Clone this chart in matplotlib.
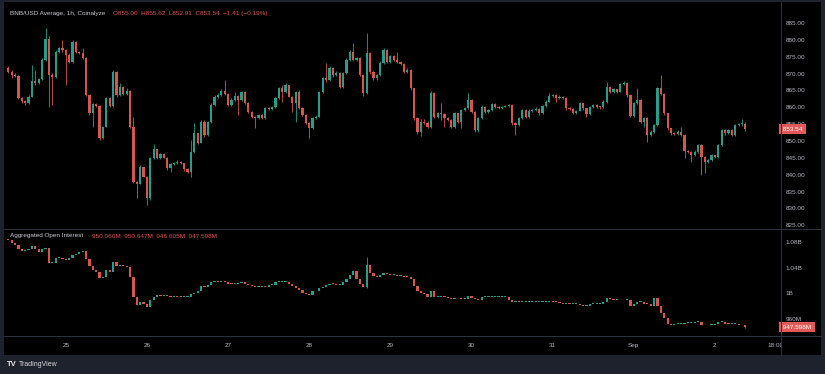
import matplotlib
matplotlib.use("Agg")
import matplotlib.pyplot as plt
import numpy as np
from matplotlib import transforms
from matplotlib.patches import Rectangle
from matplotlib.lines import Line2D

plt.rcParams['font.family'] = ['Liberation Sans', 'DejaVu Sans']

# ---------------- data ----------------
first_hour = -17          # first candle: Aug 24 07:00 (hours relative to Aug 25 00:00)
first_open = 871.6

closes = [
    870.6, 869.6, 869.3, 862.7, 861.9, 861.2, 863.2, 867.9, 867.1, 868.3,
    874.0, 880.3, 869.6, 869.1, 876.5, 877.5, 877.0, 875.5, 873.5, 879.5,
    876.5, 876.2, 874.5, 863.6, 858.2, 861.0, 860.4, 850.8, 854.3, 862.7,
    860.4, 870.6, 863.6, 866.1, 863.9, 864.9, 854.3, 837.9, 837.4, 842.4,
    839.4, 833.0, 844.9, 847.5, 844.9, 846.1, 845.1, 841.9, 843.2, 843.4,
    843.9, 843.4, 841.6, 840.9, 846.8, 852.3, 849.5, 855.7, 851.8, 855.7,
    860.7, 863.2, 863.6, 864.9, 863.9, 860.7, 862.2, 863.4, 862.2, 864.6,
    861.4, 858.7, 857.2, 856.7, 857.7, 856.7, 859.7, 859.4, 860.0, 862.7,
    865.6, 864.6, 866.6, 863.2, 861.2, 864.6, 859.7, 857.7, 855.2, 853.8,
    856.7, 857.2, 864.6, 868.6, 868.1, 871.6, 869.6, 870.3, 866.1, 870.1,
    874.0, 876.5, 874.0, 874.5, 869.6, 864.1, 876.0, 870.6, 868.6, 869.6,
    873.2, 877.0, 873.5, 875.2, 874.0, 873.5, 872.8, 870.6, 871.1, 865.6,
    856.7, 852.8, 855.7, 855.4, 854.3, 864.3, 857.2, 858.2, 857.9, 856.7,
    856.2, 854.3, 858.2, 855.7, 859.2, 859.7, 862.2, 858.7, 853.3, 856.7,
    860.2, 858.7, 859.2, 861.0, 860.0, 859.8, 860.2, 860.4, 860.6, 855.2,
    854.7, 856.7, 859.2, 857.2, 859.0, 859.2, 859.6, 858.2, 860.4, 861.7,
    863.4, 863.6, 862.7, 863.2, 862.9, 859.7, 859.6, 858.4, 859.0, 861.2,
    859.7, 858.0, 860.0, 860.7, 860.2, 860.0, 861.7, 865.9, 864.6, 865.3,
    864.6, 866.9, 867.3, 863.6, 857.4, 861.2, 862.2, 855.7, 856.7, 851.8,
    852.8, 854.7, 865.6, 863.9, 858.2, 853.8, 852.3, 852.1, 852.8, 851.8,
    847.1, 846.8, 845.8, 846.8, 848.8, 845.3, 843.9, 844.4, 845.8, 845.3,
    848.8, 853.3, 852.3, 853.3, 851.8, 854.7, 854.9, 855.0, 853.54,
]

highs = [
    872.1, 871.1, 870.1, 869.6, 863.0, 862.2, 863.6, 872.5, 871.1, 868.6,
    874.5, 883.4, 881.0, 870.1, 877.0, 878.0, 880.0, 877.2, 876.0, 880.0,
    879.8, 876.8, 877.5, 874.8, 863.6, 861.4, 861.2, 860.7, 854.5, 863.2,
    863.0, 871.1, 870.9, 867.1, 866.3, 865.6, 865.1, 857.2, 838.2, 842.8,
    842.4, 839.6, 845.3, 849.1, 847.7, 846.5, 846.3, 845.3, 843.6, 843.9,
    844.4, 844.2, 843.6, 841.9, 850.3, 855.2, 852.5, 856.2, 856.2, 856.0,
    861.2, 863.6, 864.1, 865.3, 868.1, 864.1, 862.7, 864.6, 863.6, 864.9,
    864.8, 861.7, 859.0, 857.4, 858.0, 857.9, 860.0, 860.0, 860.4, 863.0,
    866.1, 866.6, 867.1, 866.5, 863.4, 864.9, 865.1, 860.0, 857.9, 855.7,
    857.0, 857.6, 864.9, 868.9, 873.0, 872.2, 872.0, 870.8, 870.6, 870.6,
    874.6, 877.0, 879.0, 875.0, 874.8, 870.0, 881.9, 876.4, 870.8, 870.0,
    873.6, 877.6, 877.2, 875.6, 875.4, 876.5, 873.8, 873.0, 871.6, 871.4,
    865.8, 857.0, 856.4, 856.6, 855.8, 864.8, 864.6, 858.6, 861.2, 858.2,
    857.0, 856.4, 858.6, 858.4, 859.6, 860.2, 864.1, 862.4, 858.9, 857.1,
    860.6, 860.4, 859.6, 861.4, 861.2, 860.3, 860.5, 860.8, 861.0, 860.9,
    855.5, 857.1, 859.6, 859.4, 859.4, 859.6, 860.0, 859.8, 860.8, 862.1,
    864.1, 864.0, 863.8, 863.5, 863.4, 863.1, 860.0, 859.8, 859.3, 861.6,
    861.4, 859.9, 860.4, 861.1, 861.0, 860.5, 862.1, 867.6, 866.2, 865.7,
    865.5, 867.3, 867.7, 867.6, 863.8, 861.6, 865.6, 862.4, 857.1, 857.0,
    853.2, 855.1, 866.0, 869.6, 864.1, 858.4, 854.0, 852.6, 853.2, 854.3,
    852.0, 847.4, 847.0, 847.2, 849.2, 849.0, 845.6, 844.8, 846.2, 846.0,
    849.2, 853.7, 853.6, 853.7, 853.5, 855.1, 855.3, 856.4, 855.62,
]

lows = [
    870.1, 868.6, 868.9, 862.4, 861.2, 860.7, 861.0, 863.0, 866.6, 866.9,
    868.1, 873.8, 860.2, 860.7, 868.6, 876.0, 876.5, 866.6, 873.0, 873.2,
    876.2, 875.8, 874.2, 863.4, 857.7, 854.3, 860.0, 850.3, 850.5, 854.1,
    860.0, 860.2, 863.2, 863.4, 863.5, 863.6, 853.8, 837.6, 833.0, 837.2,
    839.2, 831.0, 832.5, 844.6, 844.6, 844.6, 844.9, 841.4, 840.9, 842.8,
    843.1, 843.1, 841.2, 840.4, 839.4, 846.5, 849.1, 849.3, 851.3, 851.5,
    855.4, 860.4, 862.9, 863.4, 863.6, 860.4, 860.4, 862.0, 857.7, 862.0,
    861.0, 858.4, 856.9, 853.8, 856.4, 856.4, 856.4, 859.2, 859.2, 859.7,
    862.4, 861.7, 864.1, 863.0, 858.7, 855.7, 859.4, 857.4, 854.9, 850.8,
    853.5, 856.4, 857.0, 864.3, 867.6, 867.8, 869.0, 869.2, 865.6, 865.8,
    869.8, 873.6, 873.6, 873.6, 869.2, 863.4, 863.8, 870.0, 868.0, 868.2,
    869.2, 872.8, 873.0, 873.2, 873.6, 873.2, 872.4, 870.2, 870.2, 865.2,
    856.2, 852.2, 851.6, 855.0, 853.8, 854.0, 856.8, 856.8, 856.2, 854.3,
    855.8, 853.8, 854.0, 855.2, 853.8, 858.8, 859.4, 858.2, 852.8, 852.6,
    856.4, 858.3, 858.4, 859.0, 859.7, 859.5, 859.6, 860.0, 860.2, 854.8,
    851.8, 854.4, 856.5, 856.8, 856.9, 858.6, 859.0, 857.8, 858.0, 860.2,
    861.5, 863.1, 861.7, 862.5, 862.6, 859.3, 859.2, 858.0, 858.1, 858.8,
    859.3, 857.2, 857.8, 859.8, 859.9, 859.6, 859.8, 861.4, 864.2, 864.3,
    864.2, 864.4, 866.7, 863.2, 857.0, 857.1, 860.9, 855.2, 854.3, 849.8,
    851.4, 852.4, 854.4, 863.5, 857.8, 853.4, 851.9, 851.7, 851.9, 851.4,
    844.9, 846.4, 843.9, 845.5, 846.5, 839.9, 840.4, 843.6, 844.0, 844.9,
    845.0, 848.5, 851.9, 852.0, 851.4, 851.6, 854.4, 854.6, 852.91,
]

oi_first_open = 1085.0
oi_closes = [  # millions
    1083, 1079, 1075, 1069, 1066, 1068, 1069, 1073, 1069, 1065,
    1069, 1071, 1047, 1047, 1055, 1055, 1053, 1052, 1055, 1060,
    1062, 1065, 1066, 1053, 1042, 1036, 1034, 1024, 1026, 1036,
    1034, 1049, 1043, 1043, 1042, 1041, 1026, 995, 982, 987,
    984, 979, 990, 995, 998, 996, 998, 996, 995, 996,
    995, 994, 994, 995, 999, 1001, 1004, 1012, 1010, 1013,
    1018, 1020, 1018, 1020, 1018, 1015, 1014, 1015, 1016, 1018,
    1015, 1013, 1011, 1010, 1010, 1011, 1010, 1013, 1013, 1018,
    1018, 1018, 1018, 1014, 1012, 1008, 1005, 1001, 999, 998,
    1003, 1003, 1008, 1010, 1013, 1015, 1014, 1013, 1013, 1018,
    1022, 1029, 1035, 1022, 1015, 1010, 1044, 1031, 1027, 1026,
    1029, 1031, 1030, 1029, 1029, 1027, 1027, 1026, 1025, 1022,
    1011, 1003, 1001, 999, 995, 1003, 994, 995, 995, 994,
    992, 991, 992, 992, 991, 991, 996, 992, 991, 990,
    994, 994, 994, 994, 994, 994, 994, 994, 990, 987,
    987, 986, 986, 986, 986, 986, 986, 986, 987, 987,
    988, 987, 986, 985, 984, 984, 983, 983, 983, 982,
    981, 981, 983, 983, 983, 984, 986, 992, 991, 990,
    990, 989, 990, 990, 981, 983, 986, 987, 984, 983,
    981, 992, 980, 970, 961, 952, 951, 952, 952, 953,
    954, 954, 954, 955, 955, 951, 950, 951, 951, 952,
    955, 955, 953, 952, 952, 952, 951, 950.066, 947.598,
]
oi_wicks = {106: (1057, 1008), 218: (950.647, 946.605)}

day_hours = [0, 24, 48, 72, 96, 120, 144, 168, 192, 210]
day_labels = ['25', '26', '27', '28', '29', '30', '31', 'Sep', '2', '18:00']
price_ticks = [825, 830, 835, 840, 845, 850, 855, 860, 865, 870, 875, 880, 885]
oi_ticks = [960, 1000, 1040, 1080]
oi_tick_labels = ['960M', '1B', '1.04B', '1.08B']

title = 'BNB/USD Average, 1h, Coinalyze'
ohlc_text = 'O855.00  H855.62  L852.91  C853.54  \u22121.41 (\u22120.19%)'
oi_title = 'Aggregated Open Interest'
oi_values = '950.066M  950.647M  946.605M  947.598M'

# ---------------- styling ----------------
W, H = 825, 374
UP = '#2a9d8a'
DOWN = '#d4574f'
TXT = '#b2b5be'
SEP = '#30343e'
FRAME = '#1e222d'
FS = 4.6

fig = plt.figure(figsize=(W / 100, H / 100), dpi=100, facecolor=FRAME)


def fx(px):
    return px / W


def fy(py):
    return 1 - py / H


L, R = 4, 781
xlim = ((L - 65.8) / 3.381, (R - 65.8) / 3.381)

# black chart background (incl. right scale)
fig.add_artist(Rectangle((fx(4), fy(355)), fx(821) - fx(4), fy(2) - fy(355),
                         transform=fig.transFigure, fc='black', ec='none', zorder=-5))

ax = fig.add_axes([fx(L), fy(228), fx(R) - fx(L), fy(2) - fy(228)], facecolor='black')
ax_oi = fig.add_axes([fx(L), fy(336), fx(R) - fx(L), fy(229) - fy(336)], facecolor='black')
ax_t = fig.add_axes([fx(L), fy(355), fx(R) - fx(L), fy(336) - fy(355)], facecolor='black')

# ---- price candles ----
c = np.array(closes, float)
o = np.concatenate([[first_open], c[:-1]])
h = np.maximum(np.array(highs, float), np.maximum(o, c))
lo = np.minimum(np.array(lows, float), np.minimum(o, c))
x = np.arange(len(c)) + first_hour
cols = [UP if cc >= oo else DOWN for oo, cc in zip(o, c)]
ax.vlines(x, lo, h, colors=cols, linewidth=0.6, zorder=2)
ax.bar(x, np.maximum(np.abs(c - o), 0.3), bottom=np.minimum(o, c), width=0.66,
       color=cols, linewidth=0, zorder=3)
ax.set_xlim(*xlim)
ax.set_ylim(885 - 205 / 3.372, 885 + 21 / 3.372)

# ---- OI candles ----
oc = np.array(oi_closes, float)
oo = np.concatenate([[oi_first_open], oc[:-1]])
xo = np.arange(len(oc)) + first_hour
ocols = [UP if b >= a else DOWN for a, b in zip(oo, oc)]
ax_oi.bar(xo, np.maximum(np.abs(oc - oo), 1.4), bottom=np.minimum(oo, oc), width=0.66,
          color=ocols, linewidth=0, zorder=3)
for i, (hi, lw_) in oi_wicks.items():
    ax_oi.vlines(xo[i], lw_, hi, colors=ocols[i], linewidth=0.6, zorder=2)
ax_oi.set_xlim(*xlim)
ax_oi.set_ylim(1080 - 94 / 0.642, 1080 + 13 / 0.642)

for a in (ax, ax_oi, ax_t):
    for s in a.spines.values():
        s.set_visible(False)
    a.set_xticks([])

for a, ticks, labels in ((ax, price_ticks, [f'{v:.2f}' for v in price_ticks]),
                         (ax_oi, oi_ticks, oi_tick_labels)):
    a.yaxis.tick_right()
    a.set_yticks(ticks)
    a.set_yticklabels(labels)
    a.tick_params(axis='y', length=0, pad=3.2, labelsize=FS, labelcolor=TXT)

ax_t.set_yticks([])
ax_t.set_xlim(*xlim)
ax_t.set_ylim(0, 1)
for hh, lab in zip(day_hours, day_labels):
    ax_t.text(hh, 0.5, lab, ha='center', va='center', fontsize=FS, color=TXT, clip_on=True)

# last value boxes
bt = transforms.blended_transform_factory(ax.transAxes, ax.transData)
ax.text(1.0, c[-1], f' {c[-1]:.2f} ', transform=bt, ha='left', va='center',
        fontsize=FS, color='white', clip_on=False, zorder=10,
        bbox=dict(boxstyle='square,pad=0.35', fc='#e05a57', ec='none'))
bt2 = transforms.blended_transform_factory(ax_oi.transAxes, ax_oi.transData)
ax_oi.text(1.0, oc[-1], f' {oc[-1]:.3f}M ', transform=bt2, ha='left', va='center',
           fontsize=FS, color='white', clip_on=False, zorder=10,
           bbox=dict(boxstyle='square,pad=0.35', fc='#e05a57', ec='none'))

# separators
for y in (228.5, 336):
    fig.add_artist(Line2D([fx(4), fx(821)], [fy(y), fy(y)], color=SEP, lw=0.7,
                          transform=fig.transFigure))
fig.add_artist(Line2D([fx(781), fx(781)], [fy(2), fy(355)], color=SEP, lw=0.7,
                      transform=fig.transFigure))

# headers
fig.text(fx(10), fy(14), title, fontsize=FS, color='#c8cad0', va='center', ha='left')
fig.text(fx(113), fy(14), ohlc_text, fontsize=FS, color='#e0524f', va='center', ha='left')
fig.text(fx(10), fy(236), oi_title, fontsize=FS, color='#c8cad0', va='center', ha='left')
fig.text(fx(92), fy(236), oi_values, fontsize=FS, color='#e0524f', va='center', ha='left')

# footer logo
fig.text(fx(7), fy(364), 'TV', fontsize=5.5, color='#e8e9ec', va='center', ha='left',
         fontweight='bold')
fig.text(fx(19), fy(364), 'TradingView', fontsize=5, color='#d8d9dc', va='center', ha='left')

fig.savefig('out.png', dpi=100, facecolor=FRAME)
